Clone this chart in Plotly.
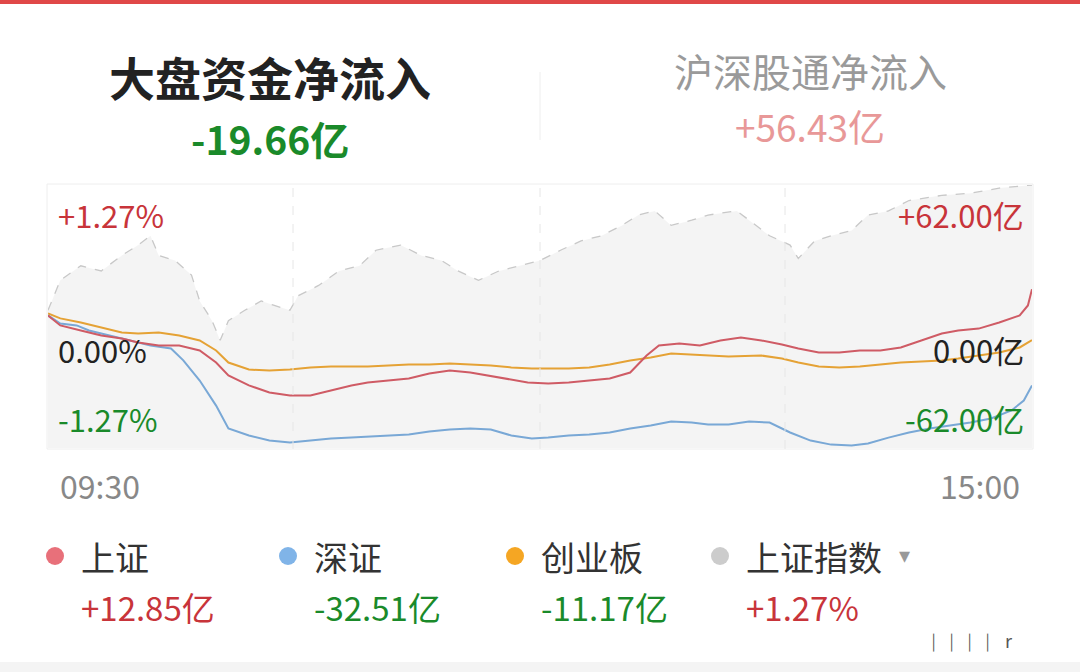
import plotly.graph_objects as go

W, H = 1080, 672

# minutes from 09:30 (0) to 15:00 (240 trading minutes)
idx_t = [0, 3, 8, 13, 18, 22, 25, 27, 31, 35, 37, 40, 42, 44, 48, 52, 55, 59, 61, 66, 71, 76, 80, 86, 91, 96,
         100, 105, 110, 115, 120, 125, 130, 135, 140, 144, 148, 152, 157, 161, 168, 171, 176, 181, 183, 187,
         191, 196, 200, 205, 210, 218, 225, 232, 240]
idx_v = [0.06, 0.35, 0.49, 0.44, 0.59, 0.69, 0.78, 0.59, 0.54, 0.40, 0.15, -0.04, -0.23, -0.04, 0.06, 0.15,
         0.11, 0.06, 0.20, 0.30, 0.44, 0.49, 0.64, 0.69, 0.59, 0.54, 0.44, 0.35, 0.44, 0.49, 0.54, 0.64, 0.73,
         0.78, 0.88, 0.98, 1.02, 0.88, 0.93, 0.98, 1.02, 0.93, 0.78, 0.69, 0.56, 0.73, 0.78, 0.83, 0.98, 1.02,
         1.12, 1.17, 1.19, 1.24, 1.27]

sh_t = [0, 3, 8, 13, 18, 22, 27, 32, 37, 41, 44, 49, 54, 59, 64, 69, 74, 78, 83, 88, 93, 98, 103, 107, 112,
        117, 122, 127, 132, 137, 142, 146, 149, 154, 159, 164, 169, 174, 179, 183, 188, 193, 198, 203, 208,
        213, 218, 222, 227, 232, 237, 239, 240]
sh_v = [0.5, -4.2, -6.6, -9.0, -10.4, -12.3, -13.7, -13.7, -16.0, -21.7, -27.8, -32.5, -35.8, -37.2, -37.2,
        -34.9, -32.5, -31.1, -30.2, -29.2, -26.9, -25.5, -26.4, -27.8, -29.2, -31.1, -31.6, -31.1, -30.2,
        -29.2, -26.4, -18.4, -13.7, -12.7, -13.7, -11.3, -9.9, -11.3, -13.2, -15.1, -17.0, -17.0, -16.0,
        -16.0, -14.6, -11.3, -8.0, -6.6, -5.7, -2.8, 0.5, 5.2, 12.85]

sz_t = [0, 3, 7, 10, 15, 20, 25, 30, 33, 37, 41, 44, 49, 54, 59, 64, 69, 74, 78, 83, 88, 93, 98, 103, 108,
        113, 118, 122, 127, 132, 137, 142, 147, 152, 157, 161, 166, 171, 176, 181, 186, 191, 196, 200, 205,
        210, 215, 220, 225, 230, 235, 238, 240]
sz_v = [0.5, -3.3, -4.2, -6.6, -9.0, -11.3, -13.7, -15.1, -20.7, -30.2, -42.0, -52.8, -56.1, -58.5, -59.4,
        -58.5, -57.5, -57.1, -56.6, -56.1, -55.6, -54.2, -53.3, -52.8, -53.3, -56.1, -57.5, -57.1, -56.1,
        -55.6, -54.7, -52.8, -51.4, -49.5, -50.0, -50.9, -50.9, -49.5, -50.0, -54.7, -58.5, -60.4, -60.8,
        -59.9, -57.1, -54.7, -52.8, -51.4, -50.0, -48.1, -44.3, -39.6, -32.51]

cy_t = [0, 3, 8, 13, 18, 22, 27, 32, 37, 41, 44, 49, 54, 59, 64, 69, 74, 78, 83, 88, 93, 98, 103, 108, 113,
        118, 122, 127, 132, 137, 142, 147, 152, 157, 161, 166, 174, 179, 183, 188, 193, 198, 203, 208, 213,
        218, 222, 227, 232, 237, 240]
cy_v = [1.4, -0.9, -2.8, -5.2, -7.5, -8.0, -7.5, -9.0, -11.3, -16.0, -21.7, -25.0, -25.5, -25.0, -24.0,
        -23.6, -23.6, -23.6, -23.1, -22.6, -22.6, -22.2, -22.6, -23.1, -24.0, -24.5, -24.5, -24.5, -24.0,
        -22.6, -20.7, -19.3, -17.4, -17.9, -18.4, -18.9, -18.4, -19.8, -21.7, -23.6, -24.0, -23.6, -22.6,
        -21.7, -21.2, -20.7, -19.8, -18.4, -17.0, -14.6, -11.17]

pct_max = 1.27
flow_max = 62.0

legend_names = ["上证", "深证", "创业板", "上证指数"]
legend_values = ["+12.85亿", "-32.51亿", "-11.17亿", "+1.27%"]
legend_dot = ["#e8707a", "#80b4e8", "#f5a623", "#cccccc"]
legend_val_color = ["#c8343a", "#1a8a2a", "#1a8a2a", "#c8343a"]
legend_x = [55, 288, 515, 720]

RED = "#c8343a"
GREEN = "#1a8a2a"
FONT = "Noto Sans CJK SC"

fig = go.Figure()
# baseline for grey fill
fig.add_trace(go.Scatter(x=[0, 240], y=[-pct_max, -pct_max], mode="lines", line=dict(width=0),
                         yaxis="y2", hoverinfo="skip", showlegend=False))
fig.add_trace(go.Scatter(x=idx_t, y=idx_v, mode="lines", yaxis="y2", fill="tonexty",
                         fillcolor="rgba(0,0,0,0.045)",
                         line=dict(color="#c8c8c8", width=1.3, dash="dash"), showlegend=False))
fig.add_trace(go.Scatter(x=cy_t, y=cy_v, mode="lines", line=dict(color="#f0aa38", width=2), showlegend=False))
fig.add_trace(go.Scatter(x=sz_t, y=sz_v, mode="lines", line=dict(color="#7fb0e0", width=2), showlegend=False))
fig.add_trace(go.Scatter(x=sh_t, y=sh_v, mode="lines", line=dict(color="#d9606a", width=2), showlegend=False))


def px(x):
    return x / W


def py(y):
    return 1 - y / H


ann = []


def txt(x, y, s, size, color, anchor="center", weight=None):
    ann.append(dict(x=px(x), y=py(y), xref="paper", yref="paper", text=s, showarrow=False,
                    xanchor=anchor, yanchor="middle",
                    font=dict(family=FONT, size=size, color=color, weight=weight)))


txt(270, 76, "大盘资金净流入", 46, "#222222", weight="bold")
txt(270, 138, "-19.66亿", 39, GREEN, weight="bold")
txt(810, 70, "沪深股通净流入", 39, "#9a9a9a")
txt(810, 126, "+56.43亿", 37, "#e89898")

txt(56, 215, "+1.27%", 31, RED, "left")
txt(56, 349, "0.00%", 31, "#222222", "left")
txt(56, 418, "-1.27%", 31, GREEN, "left")
txt(1026, 215, "+62.00亿", 31, RED, "right")
txt(1026, 349, "0.00亿", 31, "#222222", "right")
txt(1026, 418, "-62.00亿", 31, GREEN, "right")
txt(58, 485, "09:30", 32, "#888888", "left")
txt(1022, 485, "15:00", 32, "#888888", "right")

shapes = []
for i, name in enumerate(legend_names):
    lx = legend_x[i]
    shapes.append(dict(type="circle", xref="paper", yref="paper", x0=px(lx - 9), x1=px(lx + 9),
                       y0=py(565), y1=py(547), fillcolor=legend_dot[i], line=dict(width=0)))
    txt(lx + 24, 556, name, 34, "#333333", "left")
    txt(lx + 24, 607, legend_values[i], 33, legend_val_color[i], "left")
txt(905, 553, "▾", 22, "#999999")
txt(1015, 640, "⎸⎸⎸⎸r", 18, "#555555", "right")

shapes.append(dict(type="rect", xref="paper", yref="paper", x0=0, x1=1, y0=py(4), y1=1,
                   fillcolor="#e04848", line=dict(width=0)))
shapes.append(dict(type="line", xref="paper", yref="paper", x0=px(540), x1=px(540), y0=py(72),
                   y1=py(140), line=dict(color="#eeeeee", width=1)))
shapes.append(dict(type="rect", xref="paper", yref="paper", x0=px(47), x1=px(1033), y0=py(449),
                   y1=py(184), line=dict(color="#eeeeee", width=1)))
for gx in [293, 540, 785]:
    shapes.append(dict(type="line", xref="paper", yref="paper", x0=px(gx), x1=px(gx), y0=py(449),
                       y1=py(184), line=dict(color="#e6e6e6", width=1, dash="dash")))
shapes.append(dict(type="rect", xref="paper", yref="paper", x0=0, x1=1, y0=0, y1=py(662),
                   fillcolor="#f4f4f4", line=dict(width=0)))

fig.update_layout(
    width=W, height=H, margin=dict(l=0, r=0, t=0, b=0),
    paper_bgcolor="white", plot_bgcolor="white",
    xaxis=dict(domain=[48 / W, 1032 / W], range=[0, 240], showgrid=False, zeroline=False,
               showticklabels=False, fixedrange=True),
    yaxis=dict(domain=[py(448), py(185)], range=[-flow_max, flow_max], showgrid=False, zeroline=False,
               showticklabels=False),
    yaxis2=dict(domain=[py(448), py(185)], range=[-pct_max, pct_max], overlaying="y", showgrid=False,
                zeroline=False, showticklabels=False),
    annotations=ann, shapes=shapes,
)
fig.write_html("out.html", config={"displayModeBar": False})

# drop the default page margin so the figure sits at the window corner
with open("out.html", encoding="utf-8") as f:
    page = f.read()
page = page.replace("<head>", "<head><style>body{margin:0;overflow:hidden}</style>", 1)
with open("out.html", "w", encoding="utf-8") as f:
    f.write(page)
